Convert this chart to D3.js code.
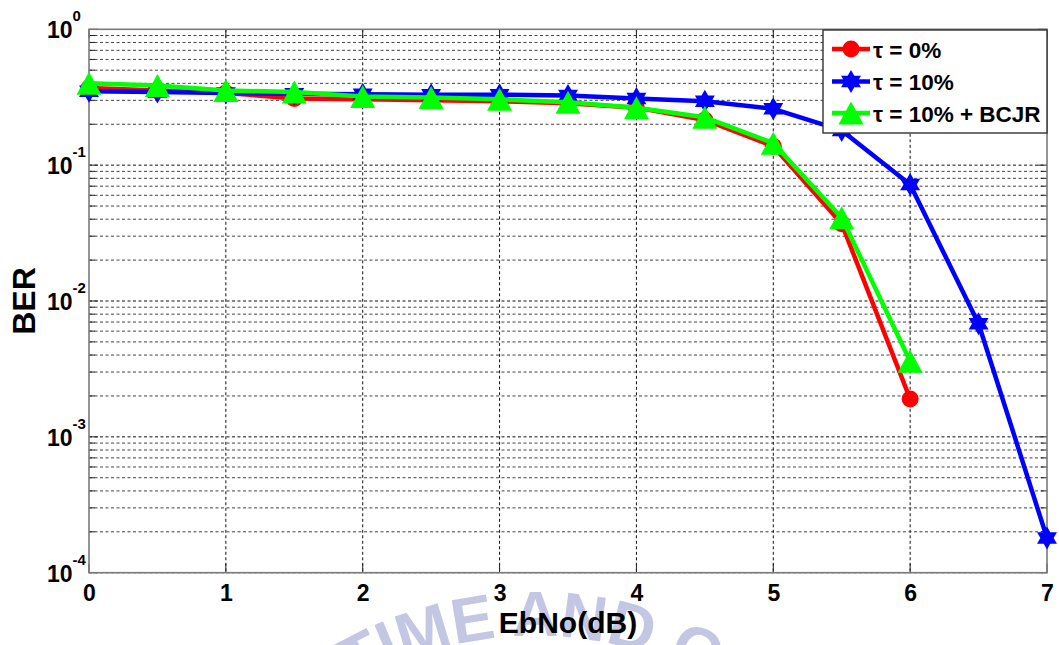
<!DOCTYPE html>
<html>
<head>
<meta charset="utf-8">
<script src="https://cdn.jsdelivr.net/npm/d3@7"></script>
<style>
  html, body { margin: 0; padding: 0; background: #ffffff; }
  svg { display: block; font-family: "Liberation Sans", Arial, sans-serif; }
</style>
</head>
<body>
<svg id="chart" width="1059" height="645"></svg>
<script>
// Eb/No sweep (dB)
const ebnoFull = [0, 0.5, 1, 1.5, 2, 2.5, 3, 3.5, 4, 4.5, 5, 5.5, 6, 6.5, 7];
const ebnoShort = [0, 0.5, 1, 1.5, 2, 2.5, 3, 3.5, 4, 4.5, 5, 5.5, 6];

// Bit error rate per scheme
const berTau0 = [0.37, 0.355, 0.34, 0.31, 0.305, 0.30, 0.295, 0.285, 0.265, 0.215, 0.138, 0.037, 0.0019];
const berTau10 = [0.35, 0.345, 0.34, 0.335, 0.333, 0.33, 0.33, 0.325, 0.31, 0.295, 0.26, 0.18, 0.072, 0.0068, 0.00018];
const berTau10Bcjr = [0.40, 0.385, 0.355, 0.345, 0.32, 0.315, 0.305, 0.29, 0.265, 0.225, 0.145, 0.041, 0.0036];

const seriesNames = ["\u03c4 = 0%", "\u03c4 = 10%", "\u03c4 = 10% + BCJR"];
const xTicks = [0, 1, 2, 3, 4, 5, 6, 7];
const yExponents = [0, -1, -2, -3, -4];

const series = [
  { name: seriesNames[0], x: ebnoShort, y: berTau0, color: "#ff0000", marker: "circle" },
  { name: seriesNames[1], x: ebnoFull, y: berTau10, color: "#0000ff", marker: "hexagram" },
  { name: seriesNames[2], x: ebnoShort, y: berTau10Bcjr, color: "#00ff00", marker: "triangle" }
];

const svg = d3.select("#chart");
const plotL = 89, plotR = 1047, plotT = 29.3, plotB = 572.7;

const x = d3.scaleLinear().domain([0, 7]).range([plotL, plotR]);
const y = d3.scaleLog().domain([1e-4, 1]).range([plotB, plotT]);

// faint seal watermark behind everything, running off the bottom edge
const wm = svg.append("g").attr("opacity", 0.7);
wm.append("path").attr("id", "sealArc").attr("fill", "none")
  .attr("d", () => {
    const cx = 535, cy = 998, r = 362;
    const a0 = -Math.PI * 0.80, a1 = -Math.PI * 0.20;
    return `M${cx + r * Math.cos(a0)},${cy + r * Math.sin(a0)} A${r},${r} 0 0 1 ${cx + r * Math.cos(a1)},${cy + r * Math.sin(a1)}`;
  });
wm.append("text")
  .attr("font-family", "'Liberation Sans Narrow', 'Liberation Sans', Arial, sans-serif")
  .attr("font-size", 64).attr("font-weight", "bold")
  .attr("fill", "#aab0d8").attr("letter-spacing", 0)
  .append("textPath").attr("href", "#sealArc").attr("startOffset", "22%")
  .text("TIME AND O2 2");

// minor + major horizontal grid
const gGrid = svg.append("g");
const yGridVals = [];
for (let e = -4; e < 0; e++) {
  for (let m = 1; m <= 9; m++) yGridVals.push(m * Math.pow(10, e));
}
const isMajor = v => Math.abs(Math.log10(v) - Math.round(Math.log10(v))) < 1e-9;
yGridVals.forEach(v => {
  gGrid.append("line")
    .attr("x1", plotL).attr("x2", plotR)
    .attr("y1", y(v)).attr("y2", y(v))
    .attr("stroke", isMajor(v) ? "#111" : "#444")
    .attr("stroke-width", 1)
    .attr("stroke-dasharray", "3,2.5");
});
xTicks.slice(1, -1).forEach(t => {
  gGrid.append("line")
    .attr("x1", x(t)).attr("x2", x(t))
    .attr("y1", plotT).attr("y2", plotB)
    .attr("stroke", "#111").attr("stroke-width", 1)
    .attr("stroke-dasharray", "3,2.5");
});

// inward ticks on all four sides
const gTicks = svg.append("g").attr("stroke", "#222").attr("stroke-width", 1);
yGridVals.concat([1]).forEach(v => {
  const len = isMajor(v) ? 9 : 6;
  gTicks.append("line").attr("x1", plotL).attr("x2", plotL + len).attr("y1", y(v)).attr("y2", y(v));
  gTicks.append("line").attr("x1", plotR).attr("x2", plotR - len).attr("y1", y(v)).attr("y2", y(v));
});
xTicks.forEach(t => {
  gTicks.append("line").attr("x1", x(t)).attr("x2", x(t)).attr("y1", plotB).attr("y2", plotB - 9);
  gTicks.append("line").attr("x1", x(t)).attr("x2", x(t)).attr("y1", plotT).attr("y2", plotT + 9);
});

// axes box
svg.append("rect")
  .attr("x", plotL).attr("y", plotT)
  .attr("width", plotR - plotL).attr("height", plotB - plotT)
  .attr("fill", "none").attr("stroke", "#7a7a7a").attr("stroke-width", 1.6);

// x tick labels
const gx = svg.append("g")
  .attr("transform", `translate(0,${plotB + 28})`)
  .call(d3.axisBottom(x).tickValues(xTicks).tickFormat(d3.format("d")).tickSize(0));
gx.select(".domain").remove();
gx.selectAll("text")
  .attr("y", 0).attr("dy", 0)
  .attr("font-family", "'Liberation Sans', Arial, sans-serif")
  .attr("font-size", 23).attr("font-weight", "bold").attr("fill", "#000");

// y tick labels as 10^k
const gy = svg.append("g");
yExponents.forEach(e => {
  const t = gy.append("text")
    .attr("x", 47).attr("y", y(Math.pow(10, e)) + 9)
    .attr("font-size", 23).attr("font-weight", "bold").attr("fill", "#000");
  t.append("tspan").text("10");
  t.append("tspan").attr("dy", -17).attr("font-size", 15).text(String(e));
});

// axis titles
svg.append("text")
  .attr("x", (plotL + plotR) / 2).attr("y", 633)
  .attr("text-anchor", "middle")
  .attr("font-size", 30).attr("font-weight", "bold").attr("fill", "#000")
  .text("EbNo(dB)");
svg.append("text")
  .attr("transform", `translate(35,${(plotT + plotB) / 2}) rotate(-90)`)
  .attr("text-anchor", "middle")
  .attr("font-size", 32).attr("font-weight", "bold").attr("fill", "#000")
  .text("BER");

// marker shapes
function hexagramPath(R) {
  const r = R / Math.sqrt(3);
  const pts = [];
  for (let i = 0; i < 12; i++) {
    const a = -Math.PI / 2 + i * Math.PI / 6;
    const rad = i % 2 === 0 ? R : r;
    pts.push([rad * Math.cos(a), rad * Math.sin(a)]);
  }
  return "M" + pts.map(p => p.join(",")).join("L") + "Z";
}
function trianglePath(w, h) {
  return `M0,${-h / 2}L${w / 2},${h / 2}L${-w / 2},${h / 2}Z`;
}
function drawMarker(g, type, cx, cy, color) {
  if (type === "circle") {
    g.append("circle").attr("cx", cx).attr("cy", cy).attr("r", 8.5).attr("fill", color);
  } else if (type === "hexagram") {
    g.append("path").attr("d", hexagramPath(11.5))
      .attr("transform", `translate(${cx},${cy})`).attr("fill", color);
  } else {
    g.append("path").attr("d", trianglePath(25, 23))
      .attr("transform", `translate(${cx},${cy})`).attr("fill", color);
  }
}

// series lines and markers
const line = d3.line().x(d => x(d[0])).y(d => y(d[1]));
series.forEach(s => {
  const g = svg.append("g");
  const pts = s.x.map((v, i) => [v, s.y[i]]);
  g.append("path").datum(pts)
    .attr("d", line)
    .attr("fill", "none").attr("stroke", s.color)
    .attr("stroke-width", 4.5).attr("stroke-linejoin", "round");
  pts.forEach(p => drawMarker(g, s.marker, x(p[0]), y(p[1]), s.color));
});

// legend
const lg = svg.append("g");
lg.append("rect")
  .attr("x", 823).attr("y", 30).attr("width", 224).attr("height", 103)
  .attr("fill", "#fff").attr("stroke", "#333").attr("stroke-width", 1.4);
const rowY = [49, 81.5, 113];
series.forEach((s, i) => {
  lg.append("line")
    .attr("x1", 832).attr("x2", 870).attr("y1", rowY[i]).attr("y2", rowY[i])
    .attr("stroke", s.color).attr("stroke-width", 4.5);
  drawMarker(lg, s.marker, 851, rowY[i], s.color);
  lg.append("text")
    .attr("x", 873).attr("y", rowY[i] + 8.5)
    .attr("font-size", 22.5).attr("font-weight", "bold").attr("fill", "#000")
    .text(s.name);
});
</script>
</body>
</html>
